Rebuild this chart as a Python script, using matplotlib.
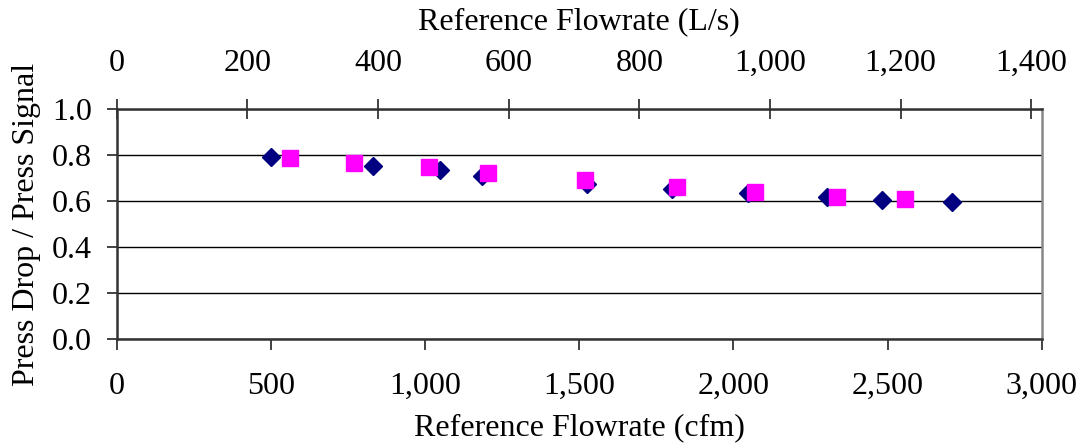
import numpy as np
import matplotlib
matplotlib.use("Agg")
import matplotlib.pyplot as plt
from matplotlib.ticker import StrMethodFormatter, MultipleLocator

plt.rcParams["font.family"] = ["Liberation Serif", "DejaVu Serif"]
plt.rcParams["font.size"] = 23

CFM_PER_LS = 2.11888

# series 1 (navy diamonds)
flow_a = [501, 830, 1049, 1184, 1524, 1800, 2049, 2303, 2483, 2708]
ratio_a = [0.791, 0.754, 0.735, 0.709, 0.673, 0.653, 0.634, 0.616, 0.606, 0.596]

# series 2 (magenta squares)
flow_b = [561, 771, 1013, 1205, 1519, 1817, 2070, 2335, 2558]
ratio_b = [0.788, 0.765, 0.748, 0.724, 0.690, 0.660, 0.640, 0.618, 0.609]

cfm_ticks = [0, 500, 1000, 1500, 2000, 2500, 3000]
ls_ticks = [0, 200, 400, 600, 800, 1000, 1200, 1400]


def cfm_to_ls(x):
    return np.asarray(x) / CFM_PER_LS


def ls_to_cfm(x):
    return np.asarray(x) * CFM_PER_LS


fig = plt.figure(figsize=(10.79, 4.45), dpi=100)
ax = fig.add_axes([0.1082, 0.2389, 0.8572, 0.5155])

ax.plot(flow_a, ratio_a, linestyle="none", marker="D", markersize=9,
        color="#000080", zorder=3, clip_on=False)
ax.plot(flow_b, ratio_b, linestyle="none", marker="s", markersize=11.5,
        color="#FF00FF", zorder=4, clip_on=False)

ax.set_xlim(0, 3000)
ax.set_ylim(0, 1.0)
ax.set_xticks(cfm_ticks)
ax.yaxis.set_major_locator(MultipleLocator(0.2))
ax.xaxis.set_major_formatter(StrMethodFormatter("{x:,.0f}"))
ax.yaxis.set_major_formatter(StrMethodFormatter("{x:.1f}"))
ax.grid(axis="y", color="black", linewidth=1.0)
ax.set_axisbelow(True)

ax.tick_params(axis="x", direction="out", length=8, width=1.2, color="#222222", pad=16)
ax.tick_params(axis="y", direction="out", length=7, width=1.2, color="#222222", pad=11)

for side in ("left", "bottom", "top"):
    ax.spines[side].set_color("#333333")
    ax.spines[side].set_linewidth(1.8)
ax.spines["right"].set_color("#888888")
ax.spines["right"].set_linewidth(1.8)

ax.set_xlabel("Reference Flowrate (cfm)", labelpad=9)
ax.set_ylabel("Press Drop / Press Signal", labelpad=8)

top = ax.secondary_xaxis("top", functions=(cfm_to_ls, ls_to_cfm))
top.set_xticks(ls_ticks)
top.xaxis.set_major_formatter(StrMethodFormatter("{x:,.0f}"))
top.tick_params(direction="inout", length=15, width=1.2, color="#222222", pad=15)
top.set_xlabel("Reference Flowrate (L/s)", labelpad=14)
top.spines["top"].set_visible(False)

fig.savefig("out.png", dpi=100)
